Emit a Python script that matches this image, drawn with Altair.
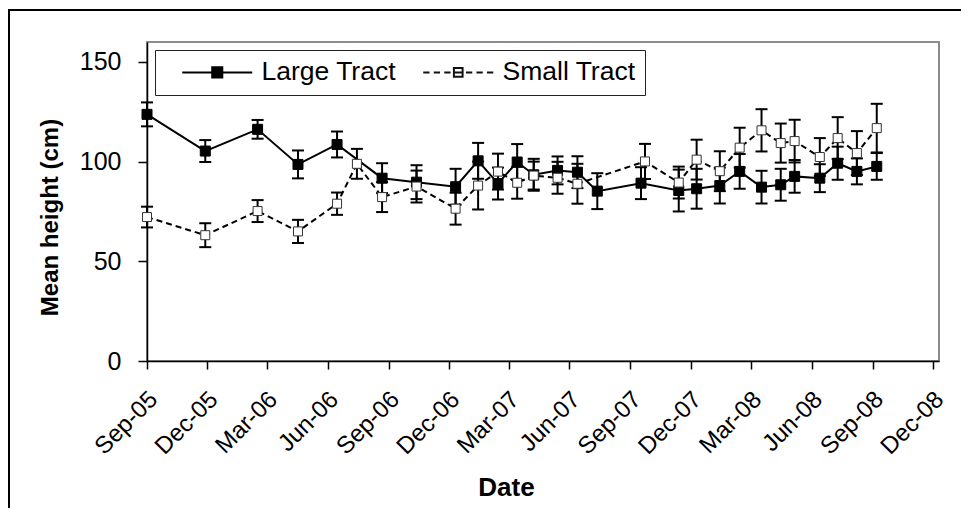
import altair as alt
import pandas as pd

series_names = ["Large Tract", "Small Tract"]

large_dates = ["2005-09-01", "2005-11-28", "2006-02-15", "2006-04-17", "2006-06-15", "2006-08-22",
               "2006-10-13", "2006-12-11", "2007-01-14", "2007-02-13", "2007-03-14", "2007-04-08",
               "2007-05-14", "2007-06-13", "2007-07-13", "2007-09-17", "2007-11-13", "2007-12-10",
               "2008-01-14", "2008-02-13", "2008-03-17", "2008-04-15", "2008-05-06", "2008-06-13",
               "2008-07-10", "2008-08-08", "2008-09-07"]
large_mean = [123.7, 105.3, 116.2, 98.6, 108.6, 91.7, 89.7, 87.4, 100.4, 89.0, 99.8, 93.4, 95.6, 94.7,
              85.2, 89.2, 85.5, 86.4, 88.0, 95.1, 87.2, 88.4, 92.6, 91.7, 99.2, 95.1, 97.6]
large_err = [6, 5.5, 4.7, 7, 6.5, 7.5, 8.5, 9, 9, 8, 9, 8, 7, 8, 9, 8, 10.5, 10, 9, 8.7, 8.2, 8, 8.2,
             7, 8.3, 6.5, 6.7]

small_dates = ["2005-09-01", "2005-11-28", "2006-02-15", "2006-04-17", "2006-06-15", "2006-07-15",
               "2006-08-22", "2006-10-13", "2006-12-11", "2007-01-14", "2007-02-13", "2007-03-14",
               "2007-04-08", "2007-05-14", "2007-06-13", "2007-09-23", "2007-11-13", "2007-12-10",
               "2008-01-14", "2008-02-13", "2008-03-17", "2008-04-15", "2008-05-06", "2008-06-13",
               "2008-07-10", "2008-08-08", "2008-09-07"]
small_mean = [72.2, 63.1, 75.2, 65.0, 78.9, 98.9, 82.2, 87.5, 76.4, 88.0, 95.0, 89.4, 93.0, 91.9,
              88.9, 100.1, 89.5, 101.0, 95.2, 107.0, 115.7, 109.3, 110.3, 102.3, 111.8, 104.3, 116.8]
small_err = [5.2, 6, 5.5, 5.8, 5.6, 7.5, 7.5, 8, 8, 12, 9, 8, 7, 8, 10, 8.8, 8, 10, 10, 10, 10.6,
             9.8, 10.7, 9.5, 10.5, 11, 12.2]

tick_dates = [(2005, 9), (2005, 12), (2006, 3), (2006, 6), (2006, 9), (2006, 12), (2007, 3),
              (2007, 6), (2007, 9), (2007, 12), (2008, 3), (2008, 6), (2008, 9), (2008, 12)]
y_ticks = [0, 50, 100, 150]

rows = []
for name, ds, ms, es in [(series_names[0], large_dates, large_mean, large_err),
                         (series_names[1], small_dates, small_mean, small_err)]:
    for d, m, e in zip(ds, ms, es):
        rows.append({"series": name, "date": d + "T00:00:00", "mean": m, "lo": m - e, "hi": m + e})
df = pd.DataFrame(rows)

FONT = "Liberation Sans"

x_enc = alt.X(
    "date:T",
    title="Date",
    scale=alt.Scale(domain=[alt.DateTime(year=2005, month=9, date=1),
                            alt.DateTime(year=2008, month=12, date=10)]),
    axis=alt.Axis(
        values=[alt.DateTime(year=y, month=m, date=1) for y, m in tick_dates],
        format="%b-%y", labelAngle=315, labelAlign="right", labelBaseline="top",
        labelPadding=18, labelOffset=-2, labelFontSize=24, labelFont=FONT, labelColor="black",
        tickSize=8, tickColor="black", tickWidth=1.5, domainColor="black", domainWidth=1.5,
        grid=False, titleFont=FONT, titleFontSize=26, titleFontWeight="bold", titleColor="black",
        titleX=359, titleY=134, titleAlign="center", titleBaseline="alphabetic",
        labelOverlap=False, labelFlush=False,
    ),
)


def y_of(field):
    return alt.Y(
        field + ":Q",
        title="Mean height (cm)",
        scale=alt.Scale(domain=[0, 160], nice=False),
        axis=alt.Axis(
            values=y_ticks, labelFontSize=25, labelFont=FONT, labelColor="black", labelPadding=17,
            tickSize=9, tickColor="black", tickWidth=1.5, domainColor="black", domainWidth=1.5,
            grid=False, titleFont=FONT, titleFontSize=24, titleFontWeight="bold",
            titleColor="black", titleAngle=270, titleX=-97, titleY=175, titleAlign="center",
            titleBaseline="middle",
        ),
    )


base = alt.Chart(df)
is_large = alt.datum.series == series_names[0]
is_small = alt.datum.series == series_names[1]

line_large = base.transform_filter(is_large).mark_line(color="black", strokeWidth=2).encode(
    x=x_enc, y=y_of("mean"))
line_small = base.transform_filter(is_small).mark_line(
    color="black", strokeWidth=2, strokeDash=[6, 4]).encode(x=x_enc, y=y_of("mean"))

err = base.mark_rule(color="black", strokeWidth=2).encode(x=x_enc, y=y_of("lo"), y2="hi:Q")
cap_lo = base.mark_rule(color="black", strokeWidth=2, xOffset=-6, x2Offset=6).encode(
    x=x_enc, x2="date:T", y=y_of("lo"))
cap_hi = base.mark_rule(color="black", strokeWidth=2, xOffset=-6, x2Offset=6).encode(
    x=x_enc, x2="date:T", y=y_of("hi"))

pts_large = base.transform_filter(is_large).mark_point(
    shape="square", filled=True, opacity=1, fill="black", stroke="black", strokeWidth=1, size=100
).encode(x=x_enc, y=y_of("mean"))
pts_small = base.transform_filter(is_small).mark_point(
    shape="square", filled=True, opacity=1, fill="white", stroke="#333333", strokeWidth=1, size=81
).encode(x=x_enc, y=y_of("mean"))

# legend symbols: 1 unit = 7 px (symbolSize 196 -> 14 px box), path spans 70 px
path_large = "M-5,0H5M-0.72,-0.72H0.72V0.72H-0.72Z"
path_small = ("M-5,0H-4.1M-3.5,0H-2.6M-2,0H-1.1M-0.6,0H0.6M1.1,0H2M2.6,0H3.5M4.1,0H5"
              "M-0.62,-0.62H0.62V0.62H-0.62Z")

legend_def = alt.Legend(
    title=None, orient="none", legendX=8, legendY=8, direction="horizontal",
    strokeColor="#222222", padding=9, symbolSize=196, symbolStrokeWidth=2,
    symbolStrokeColor="black", symbolOffset=40, labelOffset=31, columnPadding=8,
    labelFont=FONT, labelFontSize=26.5, labelColor="black", fillColor="white",
)

legend_layer = base.transform_filter("false").mark_point(
    filled=True, opacity=1, strokeWidth=2).encode(
    x=x_enc, y=y_of("mean"),
    shape=alt.Shape("series:N", scale=alt.Scale(domain=series_names, range=[path_large, path_small]),
                    legend=legend_def),
    fill=alt.Fill("series:N", scale=alt.Scale(domain=series_names, range=["black", "white"]),
                  legend=legend_def),
    stroke=alt.Stroke("series:N", scale=alt.Scale(domain=series_names, range=["black", "#111111"]),
                      legend=legend_def),
)

frame_df = pd.DataFrame({"k": [0]})
frame_left = alt.Chart(frame_df).mark_rule(color="black", strokeWidth=2).encode(
    x=alt.value(-138), y=alt.value(-33), y2=alt.value(520))
frame_top = alt.Chart(frame_df).mark_rule(color="black", strokeWidth=2).encode(
    x=alt.value(-138), x2=alt.value(900), y=alt.value(-32))

chart = alt.layer(frame_left, frame_top, line_large, line_small, err, cap_lo, cap_hi,
                  pts_large, pts_small, legend_layer).properties(
    width=792, height=319,
    autosize=alt.AutoSizeParams(type="none"),
    padding={"left": 139, "top": 34, "right": 22, "bottom": 147},
    background="white",
).configure_view(stroke="#8c8c8c", strokeWidth=2)

chart.save("out.html", embed_options={"renderer": "svg", "actions": False})
